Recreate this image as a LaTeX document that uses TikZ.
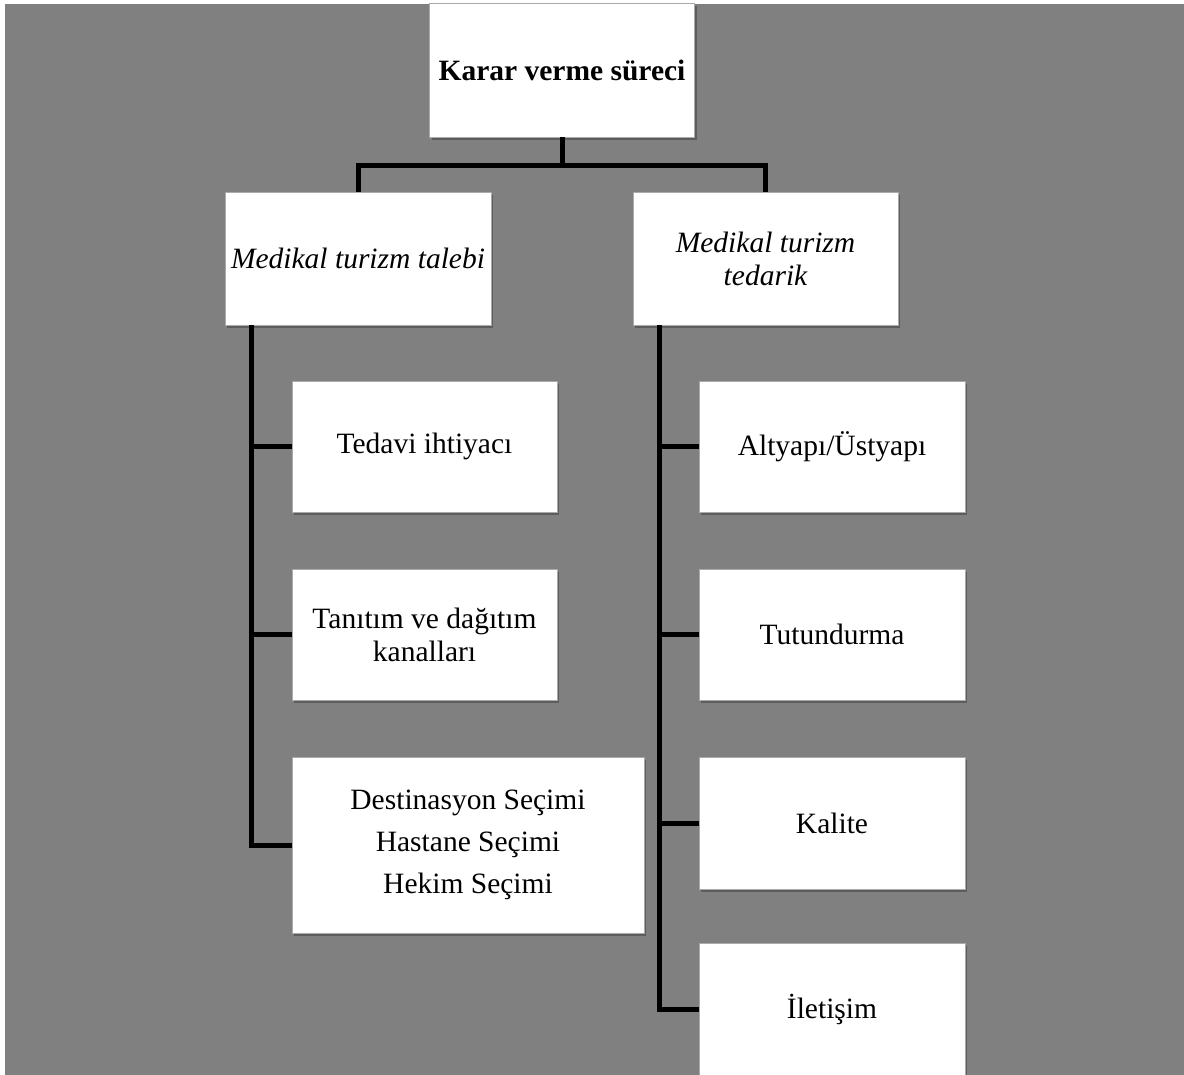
\documentclass[tikz,border=0pt]{standalone}
\usepackage{fontspec}
\setmainfont{Liberation Serif}
\usetikzlibrary{shadows,calc}
\definecolor{bggray}{RGB}{128,128,128}
\definecolor{boxline}{RGB}{170,170,170}
\tikzset{
  box/.style={draw=boxline, line width=0.8pt, fill=white, rectangle, inner sep=0pt,
    align=center, font=\fontsize{29.5}{33}\selectfont,
    drop shadow={shadow xshift=2pt, shadow yshift=-3pt, opacity=0.45, fill=black!80}},
  conn/.style={line width=5pt, black, line join=miter},
}
\begin{document}
\begin{tikzpicture}[x=1pt,y=-1pt]
\fill[white] (0,0) rectangle (1184,1075);
\useasboundingbox (0,0) rectangle (1184,1075);
\fill[bggray] (5,4) rectangle (1184,1075);

\node[box, minimum width=265, minimum height=134, font=\fontsize{29.5}{33}\selectfont\bfseries] (top) at (562,70) {Karar verme süreci};
\node[box, minimum width=266, minimum height=133, font=\fontsize{29.5}{33}\selectfont\itshape] (L1) at (358,258.5) {Medikal turizm talebi};
\node[box, minimum width=265, minimum height=133, font=\fontsize{29.5}{33}\selectfont\itshape] (R1) at (765.5,258.5) {Medikal turizm\\tedarik};

\node[box, minimum width=265, minimum height=131] (C1) at (424.5,446.5) {Tedavi ihtiyacı};
\node[box, minimum width=265, minimum height=131] (C2) at (424.5,634.5) {Tanıtım ve dağıtım\\kanalları};
\node[box, minimum width=352, minimum height=176, font=\fontsize{29.5}{42}\selectfont] (C3) at (468,845) {Destinasyon Seçimi\\Hastane Seçimi\\Hekim Seçimi};

\node[box, minimum width=266, minimum height=131] (D1) at (832,446.5) {Altyapı/Üstyapı};
\node[box, minimum width=266, minimum height=131] (D2) at (832,634.5) {Tutundurma};
\node[box, minimum width=266, minimum height=132] (D3) at (832,823) {Kalite};
\node[box, minimum width=266, minimum height=133] (D4) at (832,1009.5) {İletişim};

\coordinate (hub) at ($(top.south)+(0,28)$);
\draw[conn] (top.south) -- (hub);
\draw[conn] (L1.north) |- (hub) -| (R1.north);

\coordinate (lt) at ($(L1.south west)+(27,0)$);
\coordinate (rt) at ($(R1.south west)+(27,0)$);
\draw[conn] (lt) |- (C3.west);
\draw[conn] (lt |- C1.west) -- (C1.west);
\draw[conn] (lt |- C2.west) -- (C2.west);
\draw[conn] (rt) |- (D4.west);
\draw[conn] (rt |- D1.west) -- (D1.west);
\draw[conn] (rt |- D2.west) -- (D2.west);
\draw[conn] (rt |- D3.west) -- (D3.west);
\end{tikzpicture}
\end{document}
